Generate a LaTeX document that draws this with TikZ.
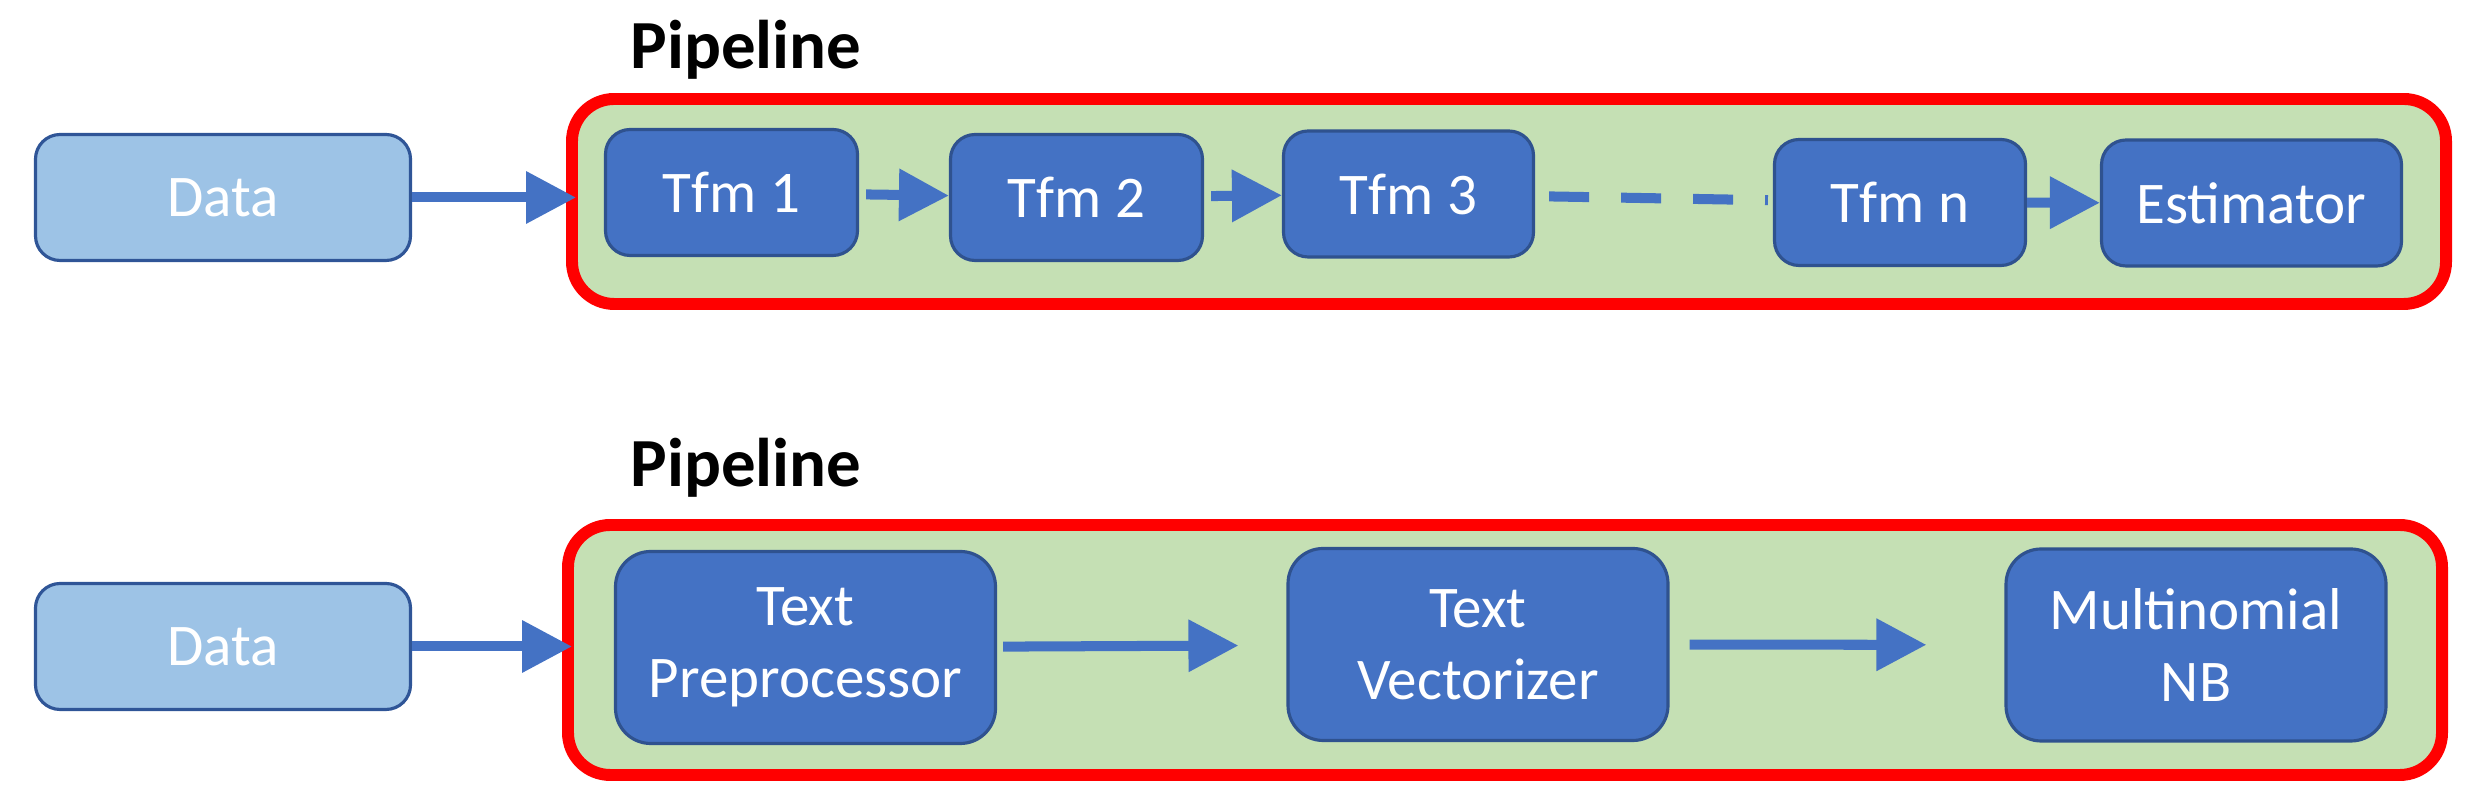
\documentclass[tikz,border=0pt]{standalone}
\usepackage{fontspec}
\setmainfont{Carlito}
\usetikzlibrary{arrows.meta,positioning}
\definecolor{plblue}{HTML}{4472C4}
\definecolor{plblueedge}{HTML}{2F528F}
\definecolor{pllight}{HTML}{9DC3E6}
\definecolor{pllightedge}{HTML}{2F5597}
\definecolor{plgreen}{HTML}{C5E0B4}
\definecolor{plred}{HTML}{FF0000}
\newcommand{\plboxfont}{\fontsize{16.8}{20.4}\selectfont}
\newcommand{\pltitlefont}{\fontsize{19.6}{23}\selectfont\bfseries}

\begin{document}
\begin{tikzpicture}[
  databox/.style={rectangle,rounded corners=7pt,minimum width=3.75cm,
                  minimum height=1.26cm,fill=pllight,draw=pllightedge,
                  line width=0.9pt,text=white,font=\plboxfont},
  stage/.style={rectangle,rounded corners=7pt,minimum height=1.26cm,
                fill=plblue,draw=plblueedge,line width=0.9pt,text=white,
                font=\plboxfont,align=center},
  bigstage/.style={stage,rounded corners=10pt,minimum width=3.80cm,
                   minimum height=1.92cm},
  pipe/.style={rectangle,rounded corners=12pt,fill=plgreen,draw=plred,
               line width=3.4pt,minimum width=18.74cm},
  title/.style={font=\pltitlefont,anchor=base},
  flow/.style={-{Triangle[length=5mm,width=5mm]},line width=2.85pt,
               draw=plblue}
]
  \useasboundingbox (0,0) rectangle (24.74,8.12);

  % ---- Top pipeline: generic transformers + estimator ----------
  \node[title] (title1) at (7.46,7.43) {Pipeline};
  \node[databox] (data1) at (2.23,6.145) {Data};
  \node[pipe,minimum height=2.05cm] (pipe1) at (15.09,6.105) {};

  \node[stage,minimum width=2.52cm] (tfm1) at (7.315,6.195) {Tfm 1};
  \node[stage,minimum width=2.52cm] (tfm2) at (10.765,6.145) {Tfm 2};
  \node[stage,minimum width=2.50cm] (tfm3) at (14.085,6.18) {Tfm 3};
  \node[stage,minimum width=2.51cm] (tfmn) at (19.00,6.095) {Tfm n};
  \node[stage,minimum width=3.00cm] (est) at (22.515,6.09) {Estimator};

  \draw[flow,shorten >=-0.1cm] (data1) -- (data1 -| pipe1.west);
  \draw[flow,shorten <=2pt] (tfm1) -- (tfm2);
  \draw[flow,shorten <=2pt] (tfm2) -- (tfm3);
  \draw[plblue,line width=2.85pt,dash pattern=on 0.4cm off 0.32cm,
        shorten <=0.14cm,shorten >=0.05cm] (tfm3) -- (tfmn);
  \draw[flow] (tfmn) -- (est);

  % ---- Bottom pipeline: text classification -------------------
  \node[title] (title2) at (7.46,3.25) {Pipeline};
  \node[databox] (data2) at (2.23,1.655) {Data};
  \node[pipe,minimum height=2.50cm] (pipe2) at (15.05,1.62) {};

  \node[bigstage] (prep) at (8.055,1.645) {Text\\Preprocessor};
  \node[bigstage] (vect) at (14.78,1.675) {Text\\Vectorizer};
  \node[bigstage] (mnb) at (21.96,1.67) {Multinomial\\NB};

  \draw[flow,shorten >=-0.1cm] (data2) -- (data2 -| pipe2.west);
  \draw[flow,shorten <=0.06cm,shorten >=0.48cm] (prep) -- (vect);
  \draw[flow,shorten <=0.2cm,shorten >=0.78cm] (vect) -- (mnb);

\end{tikzpicture}
\end{document}
